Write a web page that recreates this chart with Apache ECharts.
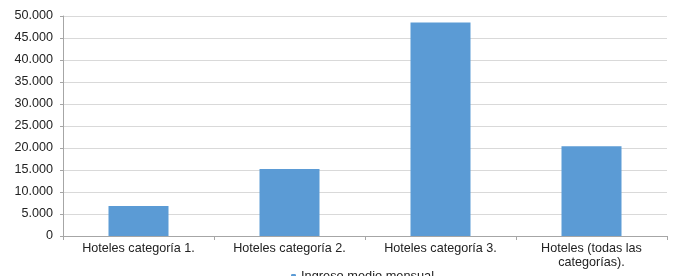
<!DOCTYPE html>
<html>
<head>
<meta charset="utf-8">
<script src="https://cdn.jsdelivr.net/npm/echarts@6/dist/echarts.min.js"></script>
<style>
  html, body { margin: 0; padding: 0; background: #fff; }
  #chart { width: 676px; height: 276px; }
</style>
</head>
<body>
<div id="chart"></div>
<script>
var categories = ['Hoteles categoría 1.', 'Hoteles categoría 2.', 'Hoteles categoría 3.', 'Hoteles (todas las\ncategorías).'];
var ingresoMedio = [6800, 15200, 48500, 20400];
var seriesName = 'Ingreso medio mensual';

function miles(v) {
  return String(v).replace(/\B(?=(\d{3})+(?!\d))/g, '.');
}

var chart = echarts.init(document.getElementById('chart'));
chart.setOption({
  animation: false,
  textStyle: { fontFamily: 'Liberation Sans, Arial, sans-serif' },
  grid: { left: 63, right: 9, top: 16, bottom: 40 },
  legend: {
    data: [seriesName],
    bottom: -12,
    left: 286,
    itemWidth: 5,
    itemHeight: 5,
    itemGap: 4,
    textStyle: { fontSize: 12.8, color: '#222' }
  },
  xAxis: {
    type: 'category',
    data: categories,
    axisLine: { lineStyle: { color: '#a6a6a6' } },
    axisTick: { show: true, length: 4, lineStyle: { color: '#a6a6a6' } },
    axisLabel: { color: '#222', fontSize: 12.6, margin: 6, lineHeight: 14, interval: 0 }
  },
  yAxis: {
    type: 'value',
    min: 0,
    max: 50000,
    interval: 5000,
    axisLine: { show: true, lineStyle: { color: '#a6a6a6' } },
    axisTick: { show: true, length: 3, lineStyle: { color: '#a6a6a6' } },
    axisLabel: { color: '#222', fontSize: 12.6, margin: 10, formatter: miles },
    splitLine: { lineStyle: { color: '#d9d9d9' } }
  },
  series: [{
    name: seriesName,
    type: 'bar',
    data: ingresoMedio,
    barWidth: 60,
    itemStyle: { color: '#5b9bd5' }
  }]
});
</script>
</body>
</html>
